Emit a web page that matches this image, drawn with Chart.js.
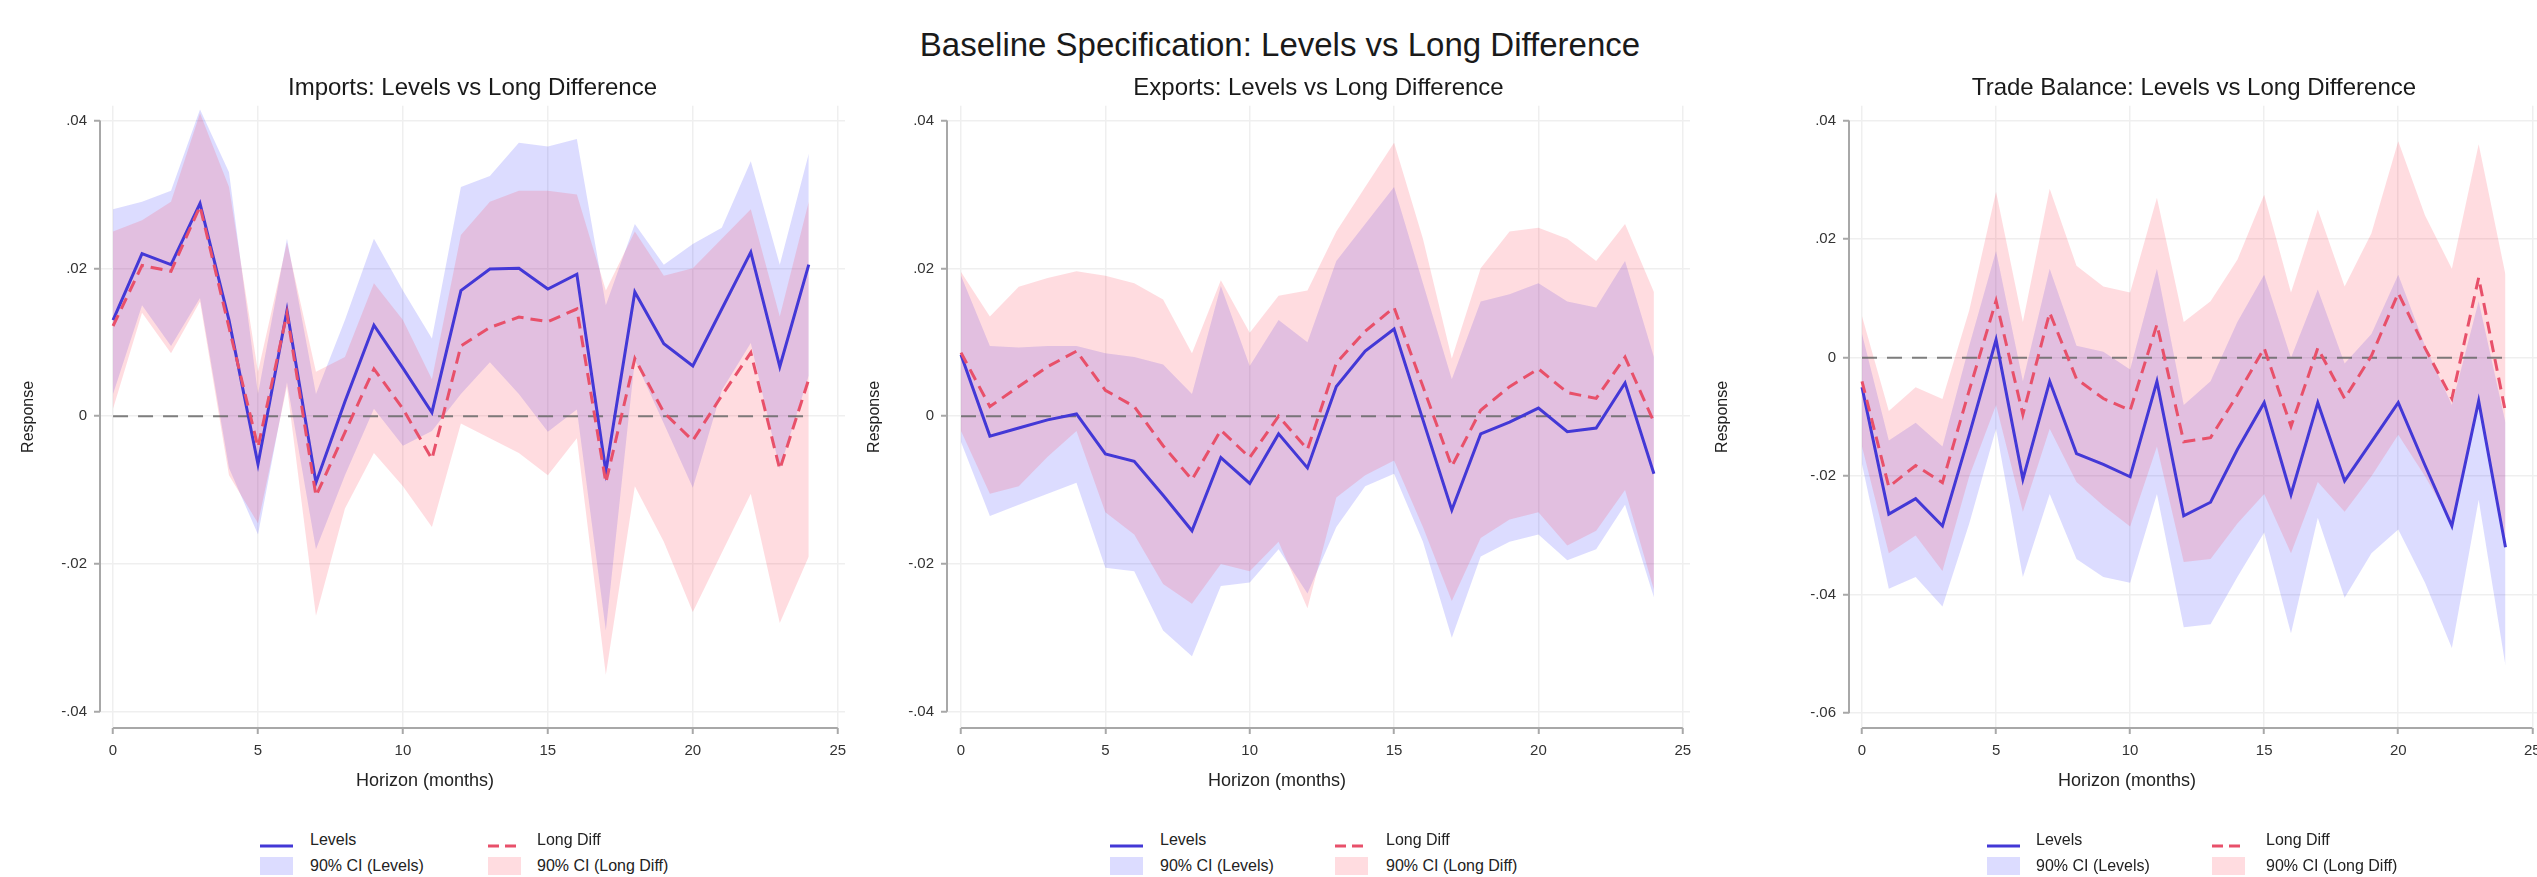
<!DOCTYPE html>
<html>
<head>
<meta charset="utf-8">
<title>Baseline Specification: Levels vs Long Difference</title>
<script src="https://cdn.jsdelivr.net/npm/chart.js@4.4.1/dist/chart.umd.min.js"></script>
<style>
  body {
    margin: 0;
    width: 2537px;
    height: 877px;
    overflow: hidden;
    position: relative;
    background: #fff;
    font-family: "Liberation Sans", Arial, sans-serif;
    color: #1a1a1a;
  }
  #main-title {
    position: absolute;
    left: 1280px;
    top: 26px;
    transform: translateX(-50%);
    font-size: 33px;
    line-height: 38px;
    white-space: nowrap;
  }
  canvas { position: absolute; top: 60px; }
  .x-title {
    position: absolute;
    top: 769px;
    transform: translateX(-50%);
    font-size: 18px;
    line-height: 22px;
    white-space: nowrap;
    color: #222;
  }
  .legend-item {
    position: absolute;
    font-size: 16px;
    line-height: 20px;
    white-space: nowrap;
    color: #222;
  }
  .legend-key { position: absolute; }
</style>
</head>
<body>
<div id="main-title">Baseline Specification: Levels vs Long Difference</div>
<canvas id="imports-chart" width="857" height="729" style="left:0px"></canvas>
<canvas id="exports-chart" width="852" height="729" style="left:850px"></canvas>
<canvas id="trade-chart" width="851" height="729" style="left:1700px"></canvas>
<div id="legends"></div>

<script>
// horizons (months)
const horizons = [0, 1, 2, 3, 4, 5, 6, 7, 8, 9, 10, 11, 12, 13, 14, 15, 16, 17, 18, 19, 20, 21, 22, 23, 24];

const xTicks = [0, 5, 10, 15, 20, 25];
const xTickLabels = ["0", "5", "10", "15", "20", "25"];
const yTicksMain = [-0.04, -0.02, 0, 0.02, 0.04];
const yTickLabelsMain = ["-.04", "-.02", "0", ".02", ".04"];
const yTicksTrade = [-0.06, -0.04, -0.02, 0, 0.02, 0.04];
const yTickLabelsTrade = ["-.06", "-.04", "-.02", "0", ".02", ".04"];

// Imports
const importsLevels = [0.0130, 0.0220, 0.0205, 0.0288, 0.0130, -0.0065, 0.0143, -0.0090, 0.0020, 0.0123, 0.0065, 0.0005, 0.0170, 0.0199, 0.0200, 0.0172, 0.0192, -0.0075, 0.0168, 0.0098, 0.0068, 0.0145, 0.0222, 0.0067, 0.0205];
const importsLevelsHi = [0.0280, 0.0290, 0.0305, 0.0415, 0.0330, 0.0030, 0.0240, 0.0030, 0.0130, 0.0240, 0.0170, 0.0105, 0.0310, 0.0325, 0.0370, 0.0365, 0.0375, 0.0150, 0.0260, 0.0205, 0.0233, 0.0255, 0.0345, 0.0205, 0.0355];
const importsLevelsLo = [0.0030, 0.0150, 0.0095, 0.0160, -0.0070, -0.0160, 0.0046, -0.0180, -0.0080, 0.0010, -0.0040, -0.0020, 0.0030, 0.0073, 0.0030, -0.0021, 0.0009, -0.0290, 0.0076, -0.0010, -0.0097, 0.0035, 0.0099, -0.0071, 0.0055];
const importsLongDiff = [0.0122, 0.0204, 0.0196, 0.0284, 0.0120, -0.0042, 0.0139, -0.0108, -0.0022, 0.0064, 0.0010, -0.0058, 0.0095, 0.0120, 0.0134, 0.0128, 0.0145, -0.0090, 0.0078, 0.0005, -0.0033, 0.0028, 0.0086, -0.0072, 0.0050];
const importsLongDiffHi = [0.0250, 0.0265, 0.0290, 0.0410, 0.0310, 0.0060, 0.0235, 0.0060, 0.0080, 0.0180, 0.0130, 0.0050, 0.0245, 0.0290, 0.0305, 0.0305, 0.0300, 0.0170, 0.0250, 0.0190, 0.0200, 0.0240, 0.0280, 0.0135, 0.0290];
const importsLongDiffLo = [0.0010, 0.0140, 0.0085, 0.0155, -0.0080, -0.0145, 0.0040, -0.0270, -0.0125, -0.0050, -0.0095, -0.0150, -0.0010, -0.0030, -0.0050, -0.0080, -0.0030, -0.0350, -0.0095, -0.0170, -0.0265, -0.0185, -0.0105, -0.0280, -0.0190];

// Exports
const exportsLevels = [0.0083, -0.0027, -0.0016, -0.0005, 0.0003, -0.0051, -0.0061, -0.0107, -0.0155, -0.0056, -0.0091, -0.0024, -0.0070, 0.0040, 0.0088, 0.0118, -0.0005, -0.0127, -0.0024, -0.0008, 0.0011, -0.0021, -0.0016, 0.0045, -0.0078];
const exportsLevelsHi = [0.0190, 0.0095, 0.0093, 0.0095, 0.0095, 0.0085, 0.0080, 0.0070, 0.0030, 0.0176, 0.0068, 0.0130, 0.0100, 0.0210, 0.0260, 0.0310, 0.0180, 0.0050, 0.0155, 0.0165, 0.0180, 0.0155, 0.0147, 0.0210, 0.0080];
const exportsLevelsLo = [-0.0035, -0.0135, -0.0120, -0.0105, -0.0090, -0.0205, -0.0210, -0.0290, -0.0325, -0.0230, -0.0225, -0.0180, -0.0240, -0.0150, -0.0095, -0.0078, -0.0170, -0.0300, -0.0190, -0.0170, -0.0160, -0.0195, -0.0180, -0.0120, -0.0245];
const exportsLongDiff = [0.0086, 0.0013, 0.0040, 0.0067, 0.0088, 0.0035, 0.0013, -0.0040, -0.0086, -0.0019, -0.0056, 0.0000, -0.0045, 0.0072, 0.0115, 0.0147, 0.0040, -0.0068, 0.0008, 0.0040, 0.0064, 0.0032, 0.0024, 0.0080, -0.0008];
const exportsLongDiffHi = [0.0195, 0.0135, 0.0175, 0.0187, 0.0196, 0.0190, 0.0180, 0.0158, 0.0085, 0.0184, 0.0113, 0.0163, 0.0170, 0.0250, 0.0310, 0.0370, 0.0240, 0.0078, 0.0200, 0.0250, 0.0255, 0.0240, 0.0210, 0.0260, 0.0168];
const exportsLongDiffLo = [-0.0020, -0.0105, -0.0095, -0.0055, -0.0020, -0.0130, -0.0160, -0.0227, -0.0254, -0.0200, -0.0210, -0.0170, -0.0260, -0.0110, -0.0080, -0.0060, -0.0150, -0.0250, -0.0165, -0.0140, -0.0130, -0.0175, -0.0155, -0.0100, -0.0235];

// Trade balance
const tradeLevels = [-0.0050, -0.0264, -0.0238, -0.0284, -0.0130, 0.0030, -0.0205, -0.0040, -0.0162, -0.0180, -0.0201, -0.0040, -0.0267, -0.0244, -0.0155, -0.0076, -0.0231, -0.0076, -0.0208, -0.0142, -0.0076, -0.0182, -0.0284, -0.0073, -0.0320];
const tradeLevelsHi = [0.0040, -0.0140, -0.0110, -0.0150, 0.0020, 0.0180, -0.0040, 0.0150, 0.0020, 0.0010, -0.0020, 0.0150, -0.0080, -0.0040, 0.0060, 0.0140, 0.0000, 0.0115, -0.0010, 0.0040, 0.0140, 0.0020, -0.0080, 0.0095, -0.0110];
const tradeLevelsLo = [-0.0180, -0.0390, -0.0370, -0.0420, -0.0280, -0.0120, -0.0370, -0.0230, -0.0340, -0.0370, -0.0380, -0.0230, -0.0455, -0.0450, -0.0370, -0.0295, -0.0465, -0.0270, -0.0405, -0.0330, -0.0290, -0.0380, -0.0490, -0.0240, -0.0520];
const tradeLongDiff = [-0.0040, -0.0218, -0.0182, -0.0211, -0.0055, 0.0096, -0.0096, 0.0076, -0.0036, -0.0069, -0.0089, 0.0056, -0.0142, -0.0135, -0.0063, 0.0016, -0.0116, 0.0016, -0.0069, 0.0003, 0.0109, 0.0016, -0.0069, 0.0135, -0.0092];
const tradeLongDiffHi = [0.0070, -0.0090, -0.0050, -0.0070, 0.0080, 0.0280, 0.0060, 0.0285, 0.0155, 0.0120, 0.0110, 0.0270, 0.0060, 0.0095, 0.0165, 0.0275, 0.0110, 0.0250, 0.0120, 0.0210, 0.0365, 0.0240, 0.0150, 0.0360, 0.0140];
const tradeLongDiffLo = [-0.0150, -0.0330, -0.0300, -0.0360, -0.0200, -0.0080, -0.0260, -0.0120, -0.0210, -0.0250, -0.0285, -0.0150, -0.0345, -0.0340, -0.0280, -0.0230, -0.0330, -0.0210, -0.0260, -0.0200, -0.0130, -0.0200, -0.0280, -0.0080, -0.0320];

// colours
const levelsColor = "#4338d6";
const longDiffColor = "#e8506a";
const levelsBand = "rgba(40, 40, 255, 0.16)";
const longDiffBand = "rgba(255, 40, 60, 0.16)";
const zeroColor = "rgba(105, 105, 105, 0.85)";
const axisColor = "#a8a8a8";
const gridColor = "#efefef";
const FONT = "'Liberation Sans', Arial, sans-serif";

const toPoints = arr => horizons.map((h, i) => ({ x: h, y: arr[i] }));

// draws the y axis between its end ticks and the x axis between 0 and 25
const axisLines = {
  id: "axisLines",
  afterDraw(chart) {
    const { ctx, chartArea, scales } = chart;
    const xs = scales.x, ys = scales.y;
    const yt = ys.ticks, xt = xs.ticks;
    ctx.save();
    ctx.strokeStyle = axisColor;
    ctx.lineWidth = 2;
    ctx.beginPath();
    ctx.moveTo(chartArea.left, ys.getPixelForValue(yt[yt.length - 1].value));
    ctx.lineTo(chartArea.left, ys.getPixelForValue(yt[0].value));
    ctx.moveTo(xs.getPixelForValue(xt[0].value), chartArea.bottom);
    ctx.lineTo(xs.getPixelForValue(xt[xt.length - 1].value), chartArea.bottom);
    ctx.stroke();
    ctx.restore();
  }
};

function makeDatasets(lev, levLo, levHi, ld, ldLo, ldHi) {
  const band = (data, color, target, order) => ({
    data: toPoints(data),
    borderWidth: 0,
    pointRadius: 0,
    backgroundColor: color,
    fill: target === null ? false : target,
    order
  });
  return [
    band(levHi, levelsBand, 1, 4),
    band(levLo, levelsBand, null, 4),
    band(ldHi, longDiffBand, 3, 3),
    band(ldLo, longDiffBand, null, 3),
    {
      data: horizons.map(h => ({ x: h, y: 0 })),
      borderColor: zeroColor,
      borderWidth: 2,
      borderDash: [15, 10],
      pointRadius: 0,
      fill: false,
      order: 2
    },
    {
      label: "Levels",
      data: toPoints(lev),
      borderColor: levelsColor,
      borderWidth: 3,
      pointRadius: 0,
      fill: false,
      order: 1
    },
    {
      label: "Long Diff",
      data: toPoints(ld),
      borderColor: longDiffColor,
      borderWidth: 3,
      borderDash: [12, 7],
      pointRadius: 0,
      fill: false,
      order: 0
    }
  ];
}

const panels = [
  {
    canvas: "imports-chart",
    title: "Imports: Levels vs Long Difference",
    yWidth: 100, yTitlePad: 19, xMin: -0.45,
    yMin: -0.0422, yMax: 0.042,
    yTicks: yTicksMain, yLabels: yTickLabelsMain,
    series: [importsLevels, importsLevelsLo, importsLevelsHi, importsLongDiff, importsLongDiffLo, importsLongDiffHi],
    xTitleX: 425, keyX: [260, 488], textX: [310, 537]
  },
  {
    canvas: "exports-chart",
    title: "Exports: Levels vs Long Difference",
    yWidth: 97, yTitlePad: 15, xMin: -0.485,
    yMin: -0.0422, yMax: 0.042,
    yTicks: yTicksMain, yLabels: yTickLabelsMain,
    series: [exportsLevels, exportsLevelsLo, exportsLevelsHi, exportsLongDiff, exportsLongDiffLo, exportsLongDiffHi],
    xTitleX: 1277, keyX: [1110, 1335], textX: [1160, 1386]
  },
  {
    canvas: "trade-chart",
    title: "Trade Balance: Levels vs Long Difference",
    yWidth: 149, yTitlePad: 13, xMin: -0.485,
    yMin: -0.0625, yMax: 0.0425,
    yTicks: yTicksTrade, yLabels: yTickLabelsTrade,
    series: [tradeLevels, tradeLevelsLo, tradeLevelsHi, tradeLongDiff, tradeLongDiffLo, tradeLongDiffHi],
    xTitleX: 2127, keyX: [1987, 2212], textX: [2036, 2266]
  }
];

panels.forEach(p => {
  new Chart(document.getElementById(p.canvas), {
    type: "line",
    data: { datasets: makeDatasets(...p.series) },
    plugins: [axisLines],
    options: {
      responsive: false,
      animation: false,
      devicePixelRatio: 1,
      layout: { padding: { left: 0, right: 12, top: 0, bottom: 0 } },
      plugins: {
        legend: { display: false },
        tooltip: { enabled: false },
        title: {
          display: true,
          text: p.title,
          fullSize: false,
          color: "#1a1a1a",
          font: { family: FONT, size: 24, weight: "normal" },
          padding: { top: 14, bottom: 3 }
        }
      },
      scales: {
        x: {
          type: "linear",
          min: p.xMin,
          max: 25.25,
          afterBuildTicks: s => { s.ticks = xTicks.map(v => ({ value: v })); },
          afterFit: s => { s.height = 61; },
          border: { display: false },
          grid: { color: gridColor, lineWidth: 1.5, tickColor: axisColor, tickLength: 6, tickWidth: 2 },
          ticks: {
            autoSkip: false, maxRotation: 0, padding: 8,
            color: "#333", font: { family: FONT, size: 15 },
            callback: (v, i) => xTickLabels[i]
          }
        },
        y: {
          min: p.yMin,
          max: p.yMax,
          afterBuildTicks: s => { s.ticks = p.yTicks.map(v => ({ value: v })); },
          afterFit: s => { s.width = p.yWidth; },
          border: { display: false },
          grid: { color: gridColor, lineWidth: 1.5, tickColor: axisColor, tickLength: 6, tickWidth: 2 },
          ticks: {
            autoSkip: false, padding: 7,
            color: "#333", font: { family: FONT, size: 15 },
            callback: (v, i) => p.yLabels[i]
          },
          title: {
            display: true, text: "Response", color: "#222",
            font: { family: FONT, size: 16 }, padding: { top: p.yTitlePad, bottom: 0 }
          }
        }
      }
    }
  });
});

// x-axis titles sit centred under the whole panel, legends in two columns
const legendBox = document.getElementById("legends");
const lineKey = (color, dash) =>
  `<svg width="33" height="8"><line x1="0" y1="4" x2="33" y2="4" stroke="${color}" stroke-width="3"${dash ? ' stroke-dasharray="11 6"' : ""}/></svg>`;
const boxKey = color =>
  `<div style="width:33px;height:18px;background:${color}"></div>`;

panels.forEach(p => {
  const xTitle = document.createElement("div");
  xTitle.className = "x-title";
  xTitle.style.left = p.xTitleX + "px";
  xTitle.textContent = "Horizon (months)";
  legendBox.appendChild(xTitle);

  const items = [
    { key: lineKey(levelsColor, false), text: "Levels", col: 0, row: 0 },
    { key: lineKey(longDiffColor, true), text: "Long Diff", col: 1, row: 0 },
    { key: boxKey(levelsBand), text: "90% CI (Levels)", col: 0, row: 1 },
    { key: boxKey(longDiffBand), text: "90% CI (Long Diff)", col: 1, row: 1 }
  ];
  items.forEach(it => {
    const cy = it.row === 0 ? 840 : 866;
    const key = document.createElement("div");
    key.className = "legend-key";
    key.style.left = p.keyX[it.col] + "px";
    key.style.top = (it.row === 0 ? cy - 4 : cy - 9) + "px";
    key.innerHTML = it.key;
    legendBox.appendChild(key);

    const label = document.createElement("div");
    label.className = "legend-item";
    label.style.left = p.textX[it.col] + "px";
    label.style.top = (cy - 10) + "px";
    label.textContent = it.text;
    legendBox.appendChild(label);
  });
});
</script>
</body>
</html>
